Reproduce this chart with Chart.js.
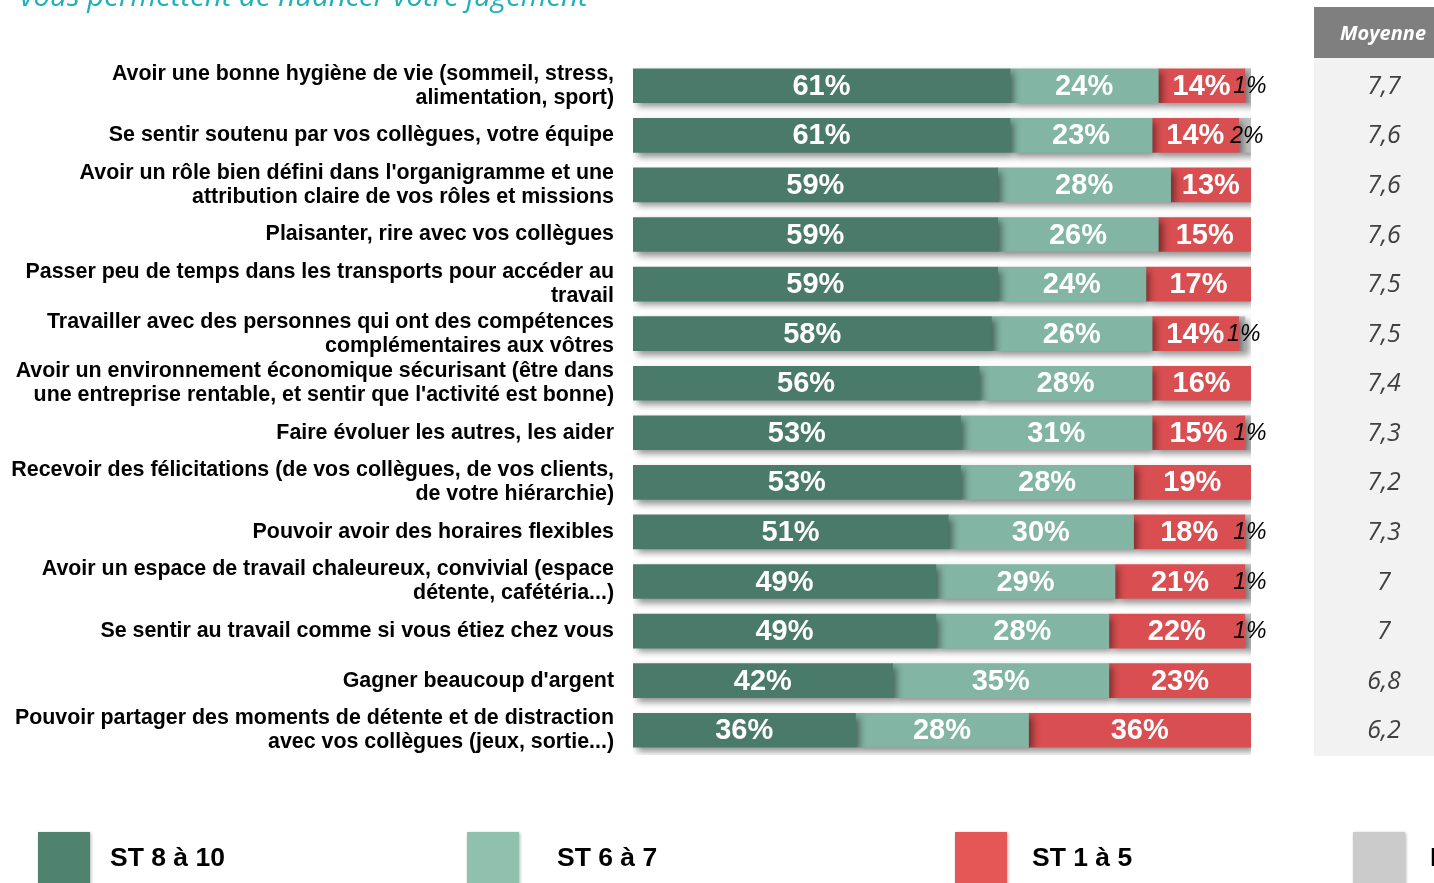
<!DOCTYPE html>
<html>
<head>
<meta charset="utf-8">
<script src="https://cdn.jsdelivr.net/npm/chart.js@4.4.1/dist/chart.umd.min.js"></script>
<style>
  html, body { margin: 0; padding: 0; background: #ffffff; overflow: hidden; }
  #wrap { position: relative; width: 1434px; height: 883px; }
</style>
</head>
<body>
<div id="wrap"><canvas id="c" width="1434" height="883"></canvas></div>
<script>
const titleText = "vous permettent de nuancer votre jugement";
const categories = [
  ["Avoir une bonne hygiène de vie (sommeil, stress,", "alimentation, sport)"],
  "Se sentir soutenu par vos collègues, votre équipe",
  ["Avoir un rôle bien défini dans l'organigramme et une", "attribution claire de vos rôles et missions"],
  "Plaisanter, rire avec vos collègues",
  ["Passer peu de temps dans les transports pour accéder au", "travail"],
  ["Travailler avec des personnes qui ont des compétences", "complémentaires aux vôtres"],
  ["Avoir un environnement économique sécurisant (être dans", "une entreprise rentable, et sentir que l'activité est bonne)"],
  "Faire évoluer les autres, les aider",
  ["Recevoir des félicitations (de vos collègues, de vos clients,", "de votre hiérarchie)"],
  "Pouvoir avoir des horaires flexibles",
  ["Avoir un espace de travail chaleureux, convivial (espace", "détente, cafétéria...)"],
  "Se sentir au travail comme si vous étiez chez vous",
  "Gagner beaucoup d'argent",
  ["Pouvoir partager des moments de détente et de distraction", "avec vos collègues (jeux, sortie...)"]
];
const seriesNames = ["ST 8 à 10", "ST 6 à 7", "ST 1 à 5", "NSP"];
const st8to10 = [61, 61, 59, 59, 59, 58, 56, 53, 53, 51, 49, 49, 42, 36];
const st6to7  = [24, 23, 28, 26, 24, 26, 28, 31, 28, 30, 29, 28, 35, 28];
const st1to5  = [14, 14, 13, 15, 17, 14, 16, 15, 19, 18, 21, 22, 23, 36];
const nsp     = [1, 2, null, null, null, 1, null, 1, null, 1, 1, 1, null, null];
const moyenneHeader = "Moyenne";
const moyennes = ["7,7", "7,6", "7,6", "7,6", "7,5", "7,5", "7,4", "7,3", "7,2", "7,3", "7", "7", "6,8", "6,2"];

const barColors = ["#4a7a69", "#82b5a3", "#d94e50", "#bfbfbf"];
const legendColors = ["#4f8370", "#8fc1ae", "#e45756", "#cbcbcb"];

const shadowPlugin = {
  id: 'barShadow',
  beforeDatasetsDraw(chart) {
    const ctx = chart.ctx;
    ctx.save();
    ctx.shadowColor = 'rgba(0,0,0,0.45)';
    ctx.shadowBlur = 7;
    ctx.shadowOffsetX = 4;
    ctx.shadowOffsetY = 4;
  },
  afterDatasetsDraw(chart) {
    chart.ctx.restore();
  }
};

const labelPlugin = {
  id: 'labelsAndExtras',
  afterDraw(chart) {
    const ctx = chart.ctx;
    const yScale = chart.scales.y;
    ctx.save();
    // data labels
    chart.data.datasets.forEach((ds, di) => {
      const meta = chart.getDatasetMeta(di);
      meta.data.forEach((bar, i) => {
        const v = ds.data[i];
        if (v === null || v === undefined) return;
        let cx = (bar.x + bar.base) / 2;
        const cy = bar.y;
        if (di < 3) {
          ctx.font = 'bold 29px "Liberation Sans", Arial, sans-serif';
          ctx.fillStyle = '#ffffff';
        } else {
          ctx.font = 'italic 23px "Liberation Sans", Arial, sans-serif';
          ctx.fillStyle = '#000000';
          cx += 2;
        }
        ctx.textAlign = 'center';
        ctx.textBaseline = 'middle';
        ctx.fillText(v + '%', cx, cy + 1);
      });
    });

    // title (cut at top)
    ctx.font = 'italic 29.4px "Open Sans", "Noto Sans", sans-serif';
    ctx.fillStyle = '#1fb0b9';
    ctx.textAlign = 'left';
    ctx.textBaseline = 'alphabetic';
    ctx.fillText(titleText, 20, 6);

    // Moyenne column
    ctx.fillStyle = '#f2f2f2';
    ctx.fillRect(1314, 58, 120, 698);
    ctx.fillStyle = '#7f7f7f';
    ctx.fillRect(1314, 7, 120, 51);
    ctx.font = 'italic bold 20px "Open Sans", "Noto Sans", sans-serif';
    ctx.fillStyle = '#ffffff';
    ctx.textAlign = 'center';
    ctx.textBaseline = 'middle';
    ctx.fillText(moyenneHeader, 1383, 34);
    ctx.font = 'italic 25px "Open Sans", "Noto Sans", sans-serif';
    ctx.fillStyle = '#404040';
    moyennes.forEach((m, i) => {
      ctx.fillText(m, 1384, yScale.getPixelForValue(i) + 1);
    });

    // legend
    const legendX = [38, 467, 955, 1353];
    const textX = [110, 557, 1032, 1430];
    seriesNames.forEach((name, i) => {
      ctx.save();
      ctx.shadowColor = 'rgba(0,0,0,0.3)';
      ctx.shadowBlur = 3;
      ctx.shadowOffsetX = 1;
      ctx.shadowOffsetY = 1;
      ctx.fillStyle = legendColors[i];
      ctx.fillRect(legendX[i], 832, 52, 60);
      ctx.restore();
      ctx.font = 'bold 26.5px "Liberation Sans", Arial, sans-serif';
      ctx.fillStyle = '#000000';
      ctx.textAlign = 'left';
      ctx.textBaseline = 'middle';
      ctx.fillText(name, textX[i], 859);
    });
    ctx.restore();
  }
};

new Chart(document.getElementById('c'), {
  type: 'bar',
  data: {
    labels: categories,
    datasets: [
      { label: seriesNames[0], data: st8to10, backgroundColor: barColors[0] },
      { label: seriesNames[1], data: st6to7, backgroundColor: barColors[1] },
      { label: seriesNames[2], data: st1to5, backgroundColor: barColors[2] },
      { label: seriesNames[3], data: nsp, backgroundColor: barColors[3] }
    ]
  },
  options: {
    indexAxis: 'y',
    responsive: false,
    animation: false,
    devicePixelRatio: 1,
    layout: { padding: { left: 0, right: 183, top: 61, bottom: 128 } },
    datasets: { bar: { barThickness: 34, borderWidth: 0 } },
    plugins: {
      legend: { display: false },
      tooltip: { enabled: false },
      title: { display: false }
    },
    scales: {
      x: { stacked: true, min: 0, max: 100, display: false },
      y: {
        stacked: true,
        grid: { display: false, drawTicks: false },
        border: { display: false },
        afterFit(scale) { scale.width = 633; },
        ticks: {
          autoSkip: false,
          padding: 19,
          color: '#000000',
          font: { family: '"Liberation Sans", Arial, sans-serif', size: 21.4, weight: 'bold', lineHeight: '24px' }
        }
      }
    }
  },
  plugins: [shadowPlugin, labelPlugin]
});
</script>
</body>
</html>
